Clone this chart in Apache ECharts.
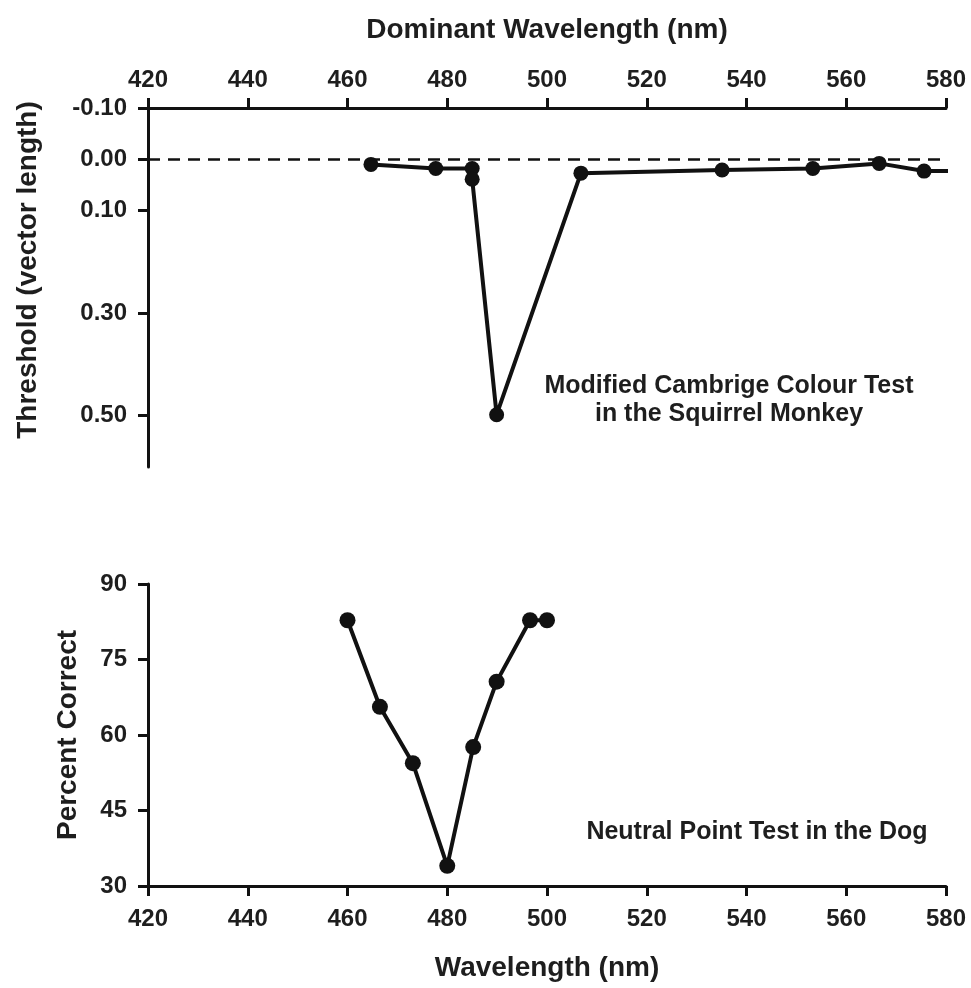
<!DOCTYPE html>
<html>
<head>
<meta charset="utf-8">
<script src="https://cdn.jsdelivr.net/npm/echarts@6/dist/echarts.min.js"></script>
<style>
html,body{margin:0;padding:0;background:#fff;}
#c{width:971px;height:988px;}
</style>
</head>
<body>
<div id="c"></div>
<script>
// Top panel: Modified Cambridge Colour Test (squirrel monkey)
var monkeyWavelength = [464.7, 477.7, 485.0, 485.0, 489.9, 506.8, 535.1, 553.3, 566.6, 575.6, 582.2];
var monkeyThreshold  = [0.010, 0.018, 0.018, 0.039, 0.498, 0.027, 0.021, 0.018, 0.008, 0.023, 0.023];
var monkeyMarker     = [true, true, true, true, true, true, true, true, true, true, false];
var thresholdTicks   = [-0.10, 0.00, 0.10, 0.30, 0.50];

// Bottom panel: Neutral point test (dog)
var dogWavelength = [460, 466.5, 473.1, 480, 485.2, 489.9, 496.6, 500];
var dogPercent    = [82.8, 65.6, 54.4, 34.0, 57.6, 70.6, 82.8, 82.8];

var FONT = '"Liberation Sans", Arial, sans-serif';
var TXT = '#1e1e1e';
var INK = '#111';
var LABEL_SIZE = 24;
var TITLE_SIZE = 28;
var NOTE_SIZE = 25;

var monkeyData = monkeyWavelength.map(function (w, i) {
  return { value: [w, monkeyThreshold[i]], symbol: monkeyMarker[i] ? 'circle' : 'none' };
});
var dogData = dogWavelength.map(function (w, i) { return [w, dogPercent[i]]; });

var axisLabelStyle = { color: TXT, fontFamily: FONT, fontWeight: 'bold', fontSize: LABEL_SIZE };
var titleStyle = { color: TXT, fontFamily: FONT, fontWeight: 'bold', fontSize: TITLE_SIZE };

var chart = echarts.init(document.getElementById('c'), null, { renderer: 'canvas' });
chart.setOption({
  animation: false,
  backgroundColor: '#fff',
  grid: [
    { left: 148, top: 108, width: 798, height: 359 },
    { left: 148, top: 584, width: 798, height: 302 }
  ],
  xAxis: [
    {
      gridIndex: 0, type: 'value', position: 'top', min: 420, max: 580, interval: 20,
      name: 'Dominant Wavelength (nm)', nameLocation: 'middle', nameGap: 64,
      nameTextStyle: titleStyle,
      axisLine: { show: true, onZero: false, lineStyle: { color: INK, width: 3 } },
      axisTick: { show: true, length: 10, lineStyle: { color: INK, width: 3 } },
      axisLabel: Object.assign({ margin: 16 }, axisLabelStyle),
      splitLine: { show: false }
    },
    {
      gridIndex: 1, type: 'value', position: 'bottom', min: 420, max: 580, interval: 20,
      name: 'Wavelength (nm)', nameLocation: 'middle', nameGap: 68,
      nameTextStyle: titleStyle,
      axisLine: { show: true, onZero: false, lineStyle: { color: INK, width: 3 } },
      axisTick: { show: true, length: 10, lineStyle: { color: INK, width: 3 } },
      axisLabel: Object.assign({ margin: 21 }, axisLabelStyle),
      splitLine: { show: false }
    }
  ],
  yAxis: [
    {
      gridIndex: 0, type: 'value', inverse: true, min: -0.10, max: 0.60,
      axisLine: { show: true, onZero: false, lineStyle: { color: INK, width: 3 } },
      axisTick: { show: true, length: 10, customValues: thresholdTicks, lineStyle: { color: INK, width: 3 } },
      axisLabel: Object.assign({ margin: 21, customValues: thresholdTicks,
        formatter: function (v) { return v.toFixed(2); } }, axisLabelStyle),
      splitLine: { show: false }
    },
    {
      gridIndex: 1, type: 'value', min: 30, max: 90, interval: 15,
      name: 'Percent Correct', nameLocation: 'middle', nameGap: 66,
      nameTextStyle: titleStyle,
      axisLine: { show: true, onZero: false, lineStyle: { color: INK, width: 3 } },
      axisTick: { show: true, length: 10, lineStyle: { color: INK, width: 3 } },
      axisLabel: Object.assign({ margin: 21 }, axisLabelStyle),
      splitLine: { show: false }
    }
  ],
  graphic: [
    { type: 'text', x: 28, y: 270, rotation: Math.PI / 2,
      style: { text: 'Threshold (vector length)', fill: TXT,
        font: 'bold ' + TITLE_SIZE + 'px ' + FONT, textAlign: 'center', textVerticalAlign: 'middle' } },
    { type: 'text', x: 729, y: 386,
      style: { text: 'Modified Cambrige Colour Test', fill: TXT,
        font: 'bold ' + NOTE_SIZE + 'px ' + FONT, textAlign: 'center', textVerticalAlign: 'middle' } },
    { type: 'text', x: 729, y: 414,
      style: { text: 'in the Squirrel Monkey', fill: TXT,
        font: 'bold ' + NOTE_SIZE + 'px ' + FONT, textAlign: 'center', textVerticalAlign: 'middle' } },
    { type: 'text', x: 757, y: 832,
      style: { text: 'Neutral Point Test in the Dog', fill: TXT,
        font: 'bold ' + NOTE_SIZE + 'px ' + FONT, textAlign: 'center', textVerticalAlign: 'middle' } }
  ],
  series: [
    {
      type: 'line', xAxisIndex: 0, yAxisIndex: 0, data: monkeyData,
      symbol: 'circle', symbolSize: 15,
      lineStyle: { color: INK, width: 4 }, itemStyle: { color: INK },
      markLine: {
        silent: true, symbol: 'none', label: { show: false },
        lineStyle: { color: INK, width: 2.5, type: [12, 8] },
        data: [{ yAxis: 0 }]
      }
    },
    {
      type: 'line', xAxisIndex: 1, yAxisIndex: 1, data: dogData,
      symbol: 'circle', symbolSize: 16,
      lineStyle: { color: INK, width: 4 }, itemStyle: { color: INK }
    }
  ]
});
</script>
</body>
</html>
